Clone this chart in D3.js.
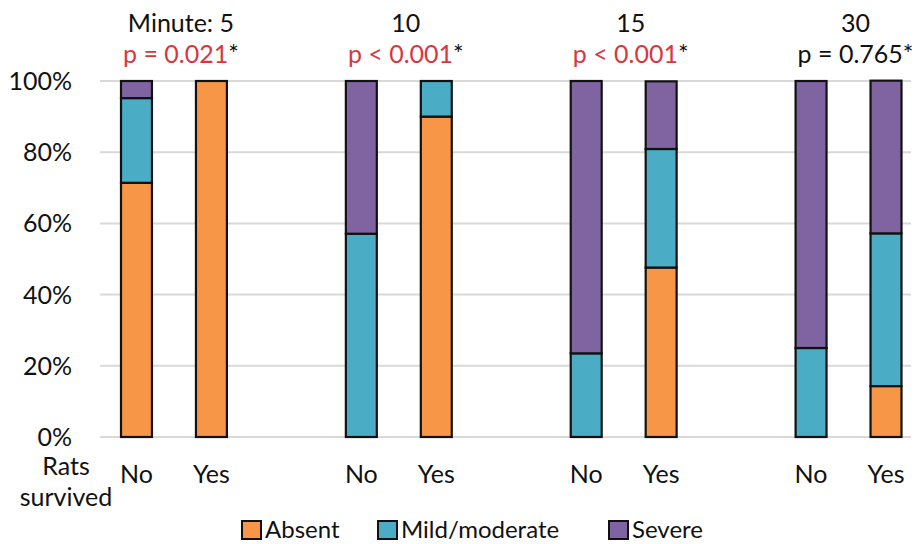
<!DOCTYPE html>
<html>
<head>
<meta charset="utf-8">
<script src="https://cdn.jsdelivr.net/npm/d3@7"></script>
<style>
  html, body { margin: 0; padding: 0; background: #fff; }
  svg { display: block; }
  text { font-family: Lato, "Open Sans", sans-serif; fill: #111; }
</style>
</head>
<body>
<svg id="chart" width="915" height="544"></svg>
<script>
// ---- data ----
const minutes = ["5", "10", "15", "30"];
const titles = ["Minute: 5", "10", "15", "30"];
const pLabels = ["p = 0.021", "p < 0.001", "p < 0.001", "p = 0.765"];
const pSignificant = [true, true, true, false];
const survived = ["No", "Yes"];
const seriesNames = ["Absent", "Mild/moderate", "Severe"];
const seriesColors = ["#F79646", "#4BACC6", "#8064A2"];
// order: 5-No, 5-Yes, 10-No, 10-Yes, 15-No, 15-Yes, 30-No, 30-Yes
const absent = [71.4, 100, 0, 90.0, 0, 47.6, 0, 14.3];
const mild = [23.8, 0, 57.1, 10.0, 23.5, 33.3, 25.0, 42.9];
const severe = [4.8, 0, 42.9, 0, 76.5, 19.0, 75.0, 42.9];
const yTicks = [0, 20, 40, 60, 80, 100];

// ---- build ----
const svg = d3.select("#chart");
const plotLeft = 100, plotRight = 911, yTop = 81, yBottom = 437;

const slots = [];
minutes.forEach((m, i) => {
  survived.forEach(s => slots.push(m + "|" + s));
  if (i < minutes.length - 1) slots.push("gap" + i);
});

const rows = [];
let k = 0;
minutes.forEach(m => survived.forEach(s => {
  rows.push({ key: m + "|" + s, minute: m, surv: s,
    Absent: absent[k], "Mild/moderate": mild[k], Severe: severe[k] });
  k++;
}));

const x = d3.scaleBand().domain(slots).range([99, 923.5])
  .paddingInner(0.587).paddingOuter(0.2935);
const y = d3.scaleLinear().domain([0, 100]).range([yBottom, yTop]);
const color = d3.scaleOrdinal().domain(seriesNames).range(seriesColors);

// gridlines
svg.append("g").selectAll("line").data(yTicks).join("line")
  .attr("x1", plotLeft).attr("x2", plotRight)
  .attr("y1", d => y(d)).attr("y2", d => y(d))
  .attr("stroke", "#d9d9d9").attr("stroke-width", 2);

// y tick labels
svg.append("g").selectAll("text").data(yTicks).join("text")
  .attr("x", 72).attr("y", d => y(d)).attr("dy", "0.36em")
  .attr("text-anchor", "end").attr("font-size", 25)
  .text(d => d + "%");

// stacked bars
const stacked = d3.stack().keys(seriesNames)(rows);
svg.append("g").selectAll("g").data(stacked).join("g")
  .attr("fill", d => color(d.key))
  .selectAll("rect").data(d => d.filter(p => p[1] - p[0] > 0)).join("rect")
  .attr("x", d => x(d.data.key))
  .attr("width", x.bandwidth())
  .attr("y", d => y(d[1]))
  .attr("height", d => y(d[0]) - y(d[1]))
  .attr("stroke", "#111").attr("stroke-width", 2.2);

// x labels
svg.append("g").selectAll("text").data(rows).join("text")
  .attr("x", d => x(d.key) + x.bandwidth() / 2)
  .attr("y", 483)
  .attr("text-anchor", "middle").attr("font-size", 25)
  .text(d => d.surv);

svg.append("text").attr("x", 66).attr("y", 475).attr("text-anchor", "middle")
  .attr("font-size", 25).text("Rats");
svg.append("text").attr("x", 66).attr("y", 506).attr("text-anchor", "middle")
  .attr("font-size", 25).text("survived");

// group titles
minutes.forEach((m, i) => {
  const cx = (x(m + "|No") + x(m + "|Yes") + x.bandwidth()) / 2 + 7;
  svg.append("text").attr("x", cx).attr("y", 32).attr("text-anchor", "middle")
    .attr("font-size", 25).text(titles[i]);
  const t = svg.append("text").attr("x", cx).attr("y", 63)
    .attr("text-anchor", "middle").attr("font-size", 25);
  t.append("tspan").style("fill", pSignificant[i] ? "#D9363E" : "#111").text(pLabels[i]);
  t.append("tspan").style("fill", "#111").text("*");
});

// legend
const legendX = [241, 377, 608];
const lg = svg.append("g").selectAll("g").data(seriesNames).join("g")
  .attr("transform", (d, i) => `translate(${legendX[i]},0)`);
lg.append("rect").attr("x", 1).attr("y", 521).attr("width", 19).attr("height", 18)
  .attr("fill", d => color(d)).attr("stroke", "#111").attr("stroke-width", 2);
lg.append("text").attr("x", 24).attr("y", 538).attr("font-size", 24).text(d => d);
</script>
</body>
</html>
